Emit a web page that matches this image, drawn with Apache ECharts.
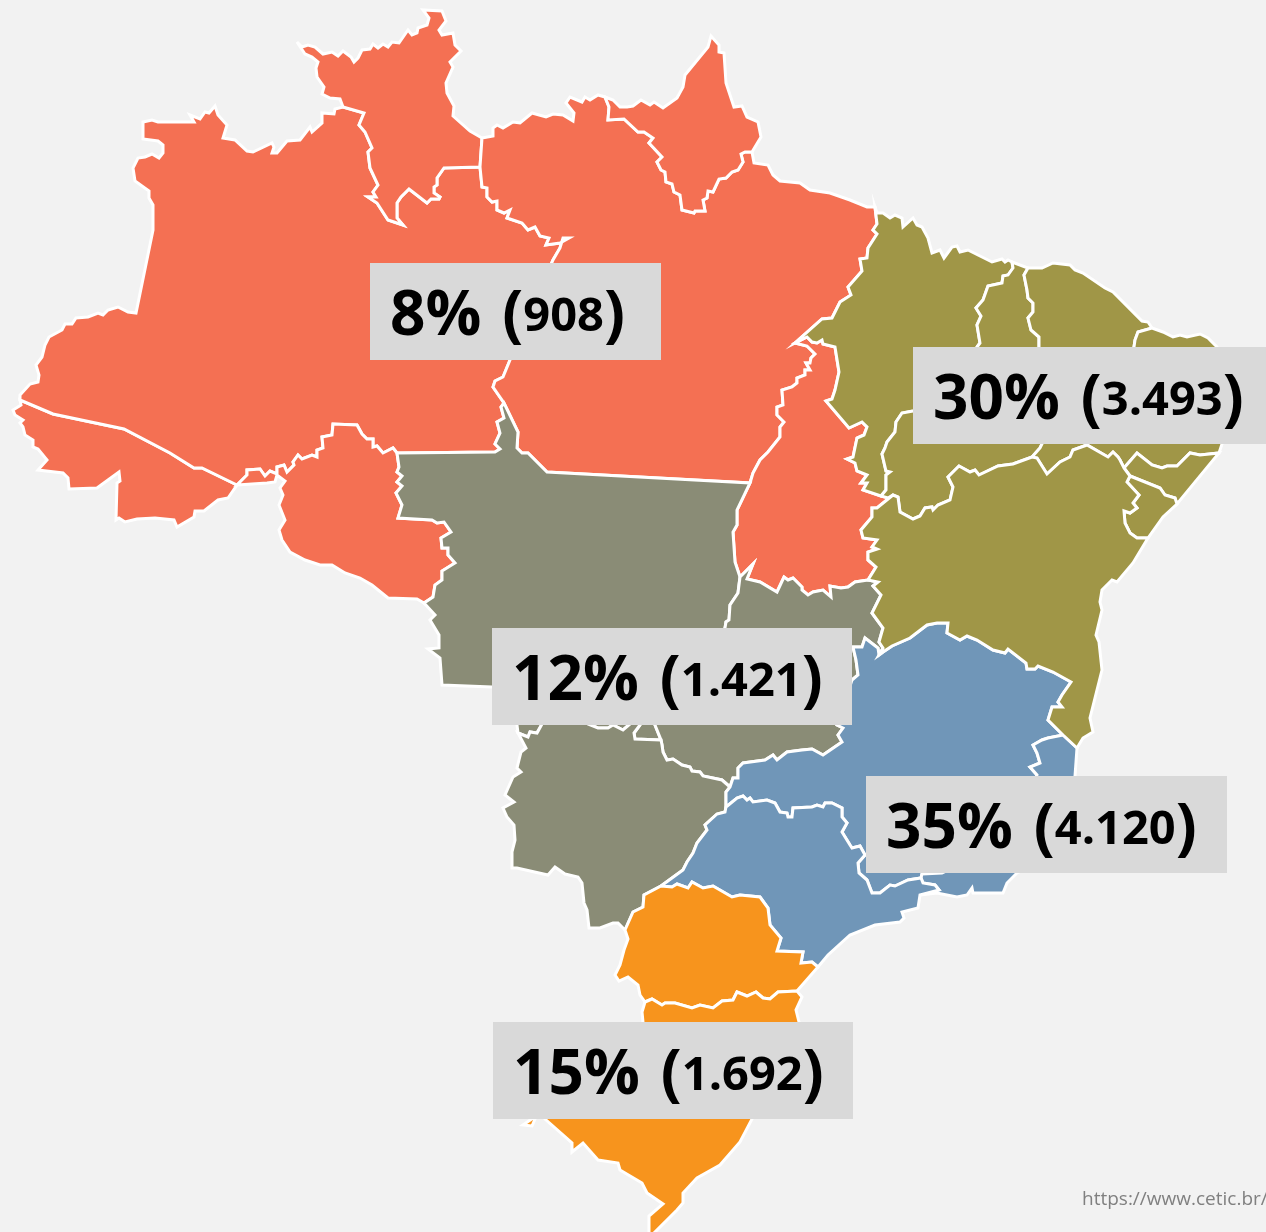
<!DOCTYPE html>
<html>
<head>
<meta charset="utf-8">
<style>html,body{margin:0;padding:0;background:#f2f2f2}#chart{width:1266px;height:1232px}</style>
<script src="https://cdn.jsdelivr.net/npm/echarts@6/dist/echarts.min.js"></script>
</head>
<body>
<div id="chart"></div>
<script>
// values
const regionNames = ['Norte', 'Nordeste', 'Centro-Oeste', 'Sudeste', 'Sul'];
const sharePercent = [8, 30, 12, 35, 15];
const schoolCounts = ['908', '3.493', '1.421', '4.120', '1.692'];
const regionColors = ['#f47053', '#a09647', '#8a8c76', '#7096b8', '#f7941d'];
const regionStates = [
  ['AC', 'AM', 'RO', 'RR', 'PA', 'AP', 'TO'],
  ['MA', 'PI', 'CE', 'RN', 'PB', 'PE', 'AL', 'SE', 'BA'],
  ['MT', 'MS', 'GO'],
  ['MG', 'ES', 'RJ', 'SP'],
  ['PR', 'SC', 'RS']
];
// where each label box sits on the map, and its width
const labelAnchors = [[515.5, 311.5], [1093, 395.5], [672, 676.5], [1046.5, 824.5], [673, 1070.5]];
const labelWidths = [291, 360, 360, 361, 360];

// state borders; shared borders are used by both states
const acAm = [[20,400],[53,414],[124,429],[170,453],[194,468],[202,468],[237,485]];
const acSouth = [[237,485],[228,498],[218,500],[204,511],[195,511],[194,517],[177,527],[174,520],[155,518],[137,519],[125,522],[119,518],[116,520],[117,483],[120,481],[119,472],[97,488],[69,489],[68,478],[63,473],[38,470],[47,460],[38,449],[33,447],[33,440],[25,435],[23,427],[20,423],[23,420],[15,415],[13,410],[21,405],[20,400]];
const amNorth = [[20,400],[20,395],[30,384],[38,382],[39,375],[36,365],[42,357],[45,345],[49,337],[62,330],[65,324],[72,324],[76,318],[88,317],[98,313],[103,315],[108,310],[118,307],[128,312],[136,313],[153,230],[153,205],[149,198],[149,191],[135,181],[133,168],[138,158],[145,157],[152,154],[159,158],[163,153],[163,145],[158,141],[143,139],[143,122],[152,120],[158,122],[194,122],[190,115],[200,119],[205,112],[209,113],[215,106],[218,115],[227,125],[223,138],[235,140],[247,151],[253,152],[272,143],[274,147],[272,153],[277,153],[287,141],[300,140],[310,127],[312,132],[322,123],[322,113],[334,114],[335,109],[343,107]];
const amRr = [[343,107],[364,113],[359,125],[365,132],[372,148],[368,152],[370,168],[378,185],[373,192],[376,197],[368,197],[377,203],[388,220],[403,225],[397,218],[397,203],[401,197],[409,189],[427,203],[431,199],[439,199],[440,197],[434,193],[434,187],[437,185],[437,178],[444,168],[480,167]];
const rrNorth = [[343,107],[340,99],[330,98],[322,94],[324,87],[317,77],[316,68],[318,62],[312,57],[305,54],[297,42],[302,47],[308,45],[315,47],[323,54],[332,52],[338,56],[343,51],[351,57],[354,62],[358,58],[362,50],[370,49],[373,44],[378,48],[383,44],[388,47],[392,42],[399,43],[408,30],[412,35],[417,33],[418,28],[427,25],[429,18],[423,10],[442,11],[446,21],[439,30],[442,35],[453,33],[455,45],[461,51],[450,62],[453,67],[446,83],[447,93],[454,106],[453,116],[470,131],[482,138]];
const rrPa = [[482,138],[480,167]];
const amPa = [[480,167],[482,187],[487,188],[487,197],[492,202],[497,201],[497,210],[504,213],[510,210],[507,218],[522,223],[528,230],[535,227],[540,236],[549,238],[546,245],[560,243],[569,238],[563,238],[560,248],[553,260],[510,360],[503,377],[495,381],[493,387],[504,403]];
const amMt = [[504,403],[501,407],[504,418],[497,422],[500,433],[495,444],[500,449],[495,452],[397,453]];
const amRo = [[397,453],[393,448],[383,453],[377,446],[373,447],[373,439],[367,439],[362,434],[357,425],[333,424],[332,435],[322,437],[323,448],[317,450],[317,457],[312,455],[302,459],[298,455],[293,462],[294,465],[287,472],[284,465],[277,467],[277,474],[270,471],[265,476],[260,469],[247,470],[247,475],[237,485]];
const roSouth = [[237,485],[267,483],[275,482],[277,475],[285,481],[280,488],[283,495],[279,505],[285,520],[279,530],[282,540],[290,552],[305,560],[320,565],[332,565],[345,573],[360,578],[372,585],[388,598],[417,599],[424,603]];
const roMt = [[397,453],[399,467],[397,472],[402,476],[397,482],[402,486],[396,493],[402,505],[398,518],[432,520],[437,523],[444,522],[451,532],[441,538],[442,548],[448,548],[448,555],[455,563],[442,571],[442,580],[435,585],[433,597],[424,603]];
const mtWest = [[424,603],[435,615],[430,620],[439,635],[439,648],[428,649],[440,658],[442,685],[492,687],[510,690],[517,725],[518,733]];
const mtMs = [[518,733],[528,737],[530,732],[537,733],[542,724],[550,712],[580,712],[588,724],[598,728],[608,728],[613,725],[623,730],[630,724],[635,715],[645,715],[640,725],[634,733],[635,739],[661,740]];
const mtGo = [[661,740],[655,725],[690,680],[725,628],[726,622],[729,620],[730,605],[738,593],[740,577]];
const mtTo = [[740,577],[735,562],[733,532],[737,525],[737,510],[750,483]];
const mtPa = [[750,483],[547,472],[528,453],[522,453],[517,448],[518,432],[504,403]];
const paNorth = [[482,138],[493,136],[493,128],[497,125],[503,128],[513,122],[520,123],[532,113],[546,117],[553,114],[563,115],[573,121],[574,113],[566,103],[570,97],[582,102],[585,97],[590,100],[598,95],[605,97]];
const apPa = [[605,97],[609,107],[608,120],[624,119],[638,132],[644,132],[653,138],[649,143],[662,157],[657,162],[661,170],[665,172],[666,182],[672,184],[674,192],[680,195],[682,210],[694,213],[695,211],[705,211],[703,200],[707,198],[708,191],[713,192],[719,179],[726,178],[732,172],[738,170],[743,162],[741,154],[745,152],[752,152]];
const apOuter = [[605,97],[613,100],[620,107],[627,107],[633,106],[641,100],[650,105],[654,102],[663,108],[677,98],[683,87],[685,75],[708,47],[711,36],[719,45],[719,52],[724,53],[726,83],[734,107],[742,106],[747,117],[758,122],[761,137],[752,152]];
const paEast = [[752,152],[754,163],[768,165],[773,175],[780,181],[800,183],[810,190],[830,193],[850,200],[867,207],[875,207]];
const paMa = [[875,207],[877,224],[873,230],[877,234],[868,248],[867,258],[860,259],[862,271],[848,287],[851,295],[840,302],[832,318],[822,319],[795,343]];
const paTo = [[795,343],[807,346],[815,354],[811,358],[810,363],[806,363],[810,370],[805,370],[805,375],[797,378],[797,383],[792,387],[782,390],[783,405],[777,407],[777,415],[784,422],[780,427],[780,437],[768,452],[760,460],[753,473],[750,483]];
const toMa = [[795,343],[807,337],[812,342],[817,343],[822,340],[823,344],[835,347],[839,372],[835,390],[832,399],[826,401],[849,428],[862,422],[867,427],[864,435],[857,438],[853,457],[847,459],[855,463],[857,471],[867,475],[861,483],[867,483],[863,490],[881,496]];
const toPi = [[881,496],[888,498],[893,495]];
const toBa = [[893,495],[877,508],[872,508],[872,517],[861,530],[863,538],[877,540],[872,547],[877,549],[868,552],[868,560],[876,567],[868,580]];
const toGo = [[868,580],[855,582],[848,587],[841,588],[830,586],[831,597],[823,590],[813,592],[808,595],[802,590],[802,587],[793,578],[788,580],[784,577],[777,592],[760,582],[747,579],[753,564],[740,577]];
const goBa = [[868,580],[878,582],[873,586],[881,595],[872,613],[883,628],[879,642],[883,648],[879,655]];
const goMg = [[879,655],[878,648],[865,638],[862,647],[853,647],[856,660],[858,675],[852,680],[837,725],[843,728],[838,735],[842,742],[823,755],[812,749],[802,750],[787,752],[777,760],[773,755],[765,760],[743,763],[738,768],[738,778],[733,778],[730,787]];
const goMs = [[730,787],[722,780],[703,776],[700,772],[692,771],[690,767],[682,765],[673,759],[667,760],[663,752],[662,745],[661,740]];
const msOuter = [[518,733],[526,748],[521,752],[517,768],[521,772],[513,777],[505,795],[514,802],[503,808],[507,817],[514,825],[515,840],[512,852],[512,868],[517,868],[548,875],[555,867],[565,874],[578,877],[582,883],[584,903],[587,910],[589,928],[600,928],[613,923],[618,923],[625,930]];
const msPr = [[625,930],[633,912],[643,907],[644,895],[661,886]];
const msSp = [[661,886],[683,870],[687,862],[693,853],[697,843],[707,830],[705,825],[717,814],[725,812],[726,807]];
const msMg = [[726,807],[726,792],[730,787]];
const spMg = [[726,807],[737,798],[743,796],[747,800],[750,798],[753,802],[767,800],[775,803],[780,812],[787,813],[788,817],[792,817],[793,808],[812,807],[817,805],[823,807],[825,803],[832,803],[842,808],[842,817],[847,823],[842,832],[850,845],[852,848],[860,846],[865,855],[858,863],[859,873],[867,880],[872,893],[880,893],[890,885],[895,886],[908,880],[921,878]];
const spRj = [[921,878],[923,883],[935,885],[939,890],[920,895]];
const spCoast = [[920,895],[918,908],[902,912],[904,918],[900,922],[875,925],[850,935],[828,955],[818,967]];
const prTop = [[661,886],[672,887],[677,884],[688,888],[692,882],[703,888],[713,886],[732,897],[740,895],[760,897],[768,908],[770,925],[781,938],[777,951],[803,952],[801,963],[812,962],[818,967]];
const prCoast = [[818,967],[797,991]];
const prSc = [[797,991],[778,992],[770,999],[763,998],[756,992],[747,996],[737,992],[733,1000],[722,1001],[713,1008],[700,1005],[692,1008],[675,1003],[665,1003],[662,1005],[652,999],[645,1002]];
const prWest = [[625,930],[628,939],[624,950],[620,965],[615,975],[619,981],[628,977],[638,985],[640,995],[645,1002]];
const scEast = [[797,991],[802,997],[796,1010],[799,1022],[795,1060]];
const scRs = [[795,1060],[643,1060]];
const scWest = [[643,1060],[643,1022],[642,1012],[645,1002]];
const rsOuter = [[795,1060],[775,1085],[752,1119],[740,1142],[720,1165],[697,1178],[683,1193],[683,1203],[677,1210],[651,1236],[649,1236],[649,1216],[663,1204],[647,1193],[642,1183],[620,1170],[618,1163],[598,1160],[583,1143],[572,1152],[572,1143],[545,1119],[540,1112],[535,1119],[532,1126],[523,1125],[533,1118],[525,1105],[580,1075],[643,1060]];
const baMg = [[879,655],[883,652],[892,646],[910,638],[927,625],[937,623],[948,623],[947,633],[960,640],[967,636],[977,640],[993,650],[1005,653],[1008,649],[1026,663],[1027,669],[1035,669],[1038,666],[1053,672],[1071,682],[1062,695],[1058,702],[1062,707],[1052,707],[1048,720],[1063,735]];
const baEs = [[1063,735],[1077,748]];
const mgEs = [[1063,735],[1048,738],[1042,740],[1033,745],[1037,753],[1040,763],[1030,767],[1037,775],[1030,800],[1030,820]];
const esCoast = [[1045,860],[1060,810],[1075,776],[1077,748]];
const esRj = [[1030,820],[1045,860]];
const mgRj = [[1030,820],[1000,845],[942,873],[922,874],[921,878]];
const rjCoast = [[1045,860],[1017,873],[1007,883],[1003,893],[973,893],[972,888],[967,895],[957,897],[937,893],[920,895]];
const maCoast = [[875,207],[877,213],[883,213],[890,218],[895,215],[902,218],[903,227],[913,218],[917,225],[922,227],[928,238],[932,253],[940,250],[944,258],[952,247],[957,246],[960,252],[968,250],[992,262],[1002,259],[1005,262],[1008,260],[1012,262]];
const maPi = [[1012,262],[1013,268],[1008,275],[1003,276],[1002,283],[988,286],[983,300],[976,308],[981,316],[977,325],[980,343],[977,347],[960,400],[913,411],[902,413],[896,422],[895,432],[887,442],[885,448],[882,454],[886,471],[890,472],[886,475],[886,490],[881,496]];
const piCoast = [[1012,262],[1028,268]];
const piCe = [[1028,268],[1024,275],[1027,290],[1028,298],[1033,303],[1033,312],[1028,318],[1031,330],[1039,337],[1039,347],[1042,400],[1042,430]];
const piPe = [[1042,430],[1042,444],[1040,448],[1032,457]];
const piBa = [[893,495],[898,497],[900,512],[913,519],[920,516],[925,508],[932,507],[933,510],[938,505],[950,500],[953,487],[948,477],[959,466],[970,472],[975,470],[979,475],[998,466],[1013,464],[1032,457]];
const ceCoast = [[1028,268],[1042,268],[1053,263],[1070,265],[1075,270],[1083,273],[1105,288],[1113,292],[1142,321],[1148,322],[1152,328]];
const ceRn = [[1152,328],[1138,332],[1135,340],[1134,347],[1128,370],[1125,385]];
const cePb = [[1125,385],[1100,400],[1060,415]];
const cePe = [[1060,415],[1042,430]];
const rnCoast = [[1152,328],[1163,332],[1173,337],[1180,335],[1187,337],[1200,334],[1208,338],[1217,347],[1223,370],[1225,385]];
const rnPb = [[1125,385],[1225,385]];
const pbCoast = [[1225,385],[1225,415]];
const pePb = [[1225,415],[1125,410],[1060,415]];
const peCoast = [[1225,415],[1222,444],[1219,453]];
const peAl = [[1124,468],[1137,453],[1152,465],[1162,468],[1167,466],[1177,466],[1190,453],[1200,455],[1219,453]];
const peBa = [[1032,457],[1037,458],[1047,474],[1060,462],[1070,457],[1073,450],[1087,445],[1108,457],[1113,452],[1118,457],[1120,460],[1124,468]];
const alBa = [[1124,468],[1127,472],[1130,476]];
const alCoast = [[1219,453],[1177,504]];
const alSe = [[1177,504],[1175,498],[1165,495],[1160,488],[1130,476]];
const seBa = [[1130,476],[1127,482],[1139,495],[1133,503],[1137,508],[1130,513],[1124,511],[1125,523],[1130,533],[1137,538],[1148,538]];
const seCoast = [[1177,504],[1163,517],[1148,538]];
const baCoast = [[1148,538],[1133,563],[1117,582],[1112,580],[1102,590],[1100,602],[1102,610],[1096,635],[1099,642],[1102,670],[1090,718],[1093,732],[1083,738],[1077,748]];

const rev = s => s.slice().reverse();
const ring = (...parts) => parts.flat();

const stateRings = {
  AC: ring(acAm, acSouth),
  AM: ring(amNorth, amRr, amPa, amMt, amRo, rev(acAm)),
  RO: ring(rev(amRo), roMt, rev(roSouth)),
  RR: ring(rrNorth, rrPa, rev(amRr)),
  PA: ring(paNorth, apPa, paEast, paMa, paTo, mtPa, rev(amPa), rev(rrPa)),
  AP: ring(apOuter, rev(apPa)),
  TO: ring(rev(paTo), toMa, toPi, toBa, toGo, mtTo),
  MT: ring(amMt, roMt, mtWest, mtMs, mtGo, mtTo, mtPa),
  GO: ring(rev(toGo), goBa, goMg, goMs, mtGo),
  MS: ring(rev(mtMs), msOuter, msPr, msSp, msMg, goMs),
  MG: ring(rev(goMg), baMg, mgEs, mgRj, rev(spMg), msMg),
  ES: ring(rev(baEs), mgEs, esRj, esCoast),
  RJ: ring(rev(mgRj), esRj, rjCoast, rev(spRj)),
  SP: ring(msSp, spMg, spRj, spCoast, rev(prTop)),
  PR: ring(prTop, prCoast, prSc, rev(prWest), msPr),
  SC: ring(rev(prSc), scEast, scRs, scWest),
  RS: ring(rsOuter, rev(scRs)),
  MA: ring(maCoast, maPi, rev(toMa), rev(paMa)),
  PI: ring(piCoast, piCe, piPe, rev(piBa), rev(toPi), rev(maPi)),
  CE: ring(ceCoast, ceRn, cePb, cePe, rev(piCe)),
  RN: ring(rnCoast, rev(rnPb), rev(ceRn)),
  PB: ring(rnPb, pbCoast, pePb, rev(cePb)),
  PE: ring(rev(cePe), rev(pePb), peCoast, rev(peAl), rev(peBa), rev(piPe)),
  AL: ring(peAl, alCoast, alSe, rev(alBa)),
  SE: ring(rev(alSe), seCoast, rev(seBa)),
  BA: ring(rev(toBa), piBa, peBa, alBa, seBa, baCoast, rev(baEs), rev(baMg), rev(goBa))
};

const brazil = {
  type: 'FeatureCollection',
  features: Object.keys(stateRings).map(name => ({
    type: 'Feature',
    properties: { name: name },
    geometry: { type: 'Polygon', coordinates: [stateRings[name]] }
  }))
};
echarts.registerMap('brasil', brazil);

const regions = [];
regionStates.forEach((states, i) => {
  states.forEach(name => {
    regions.push({ name: name, itemStyle: { areaColor: regionColors[i] } });
  });
});

const chart = echarts.init(document.getElementById('chart'));
chart.setOption({
  animation: false,
  backgroundColor: '#f2f2f2',
  title: {
    text: 'https://www.cetic.br/',
    left: 1082,
    top: 1190,
    padding: 0,
    textStyle: { fontFamily: 'Open Sans', fontSize: 19, fontWeight: 'normal', color: '#808080' }
  },
  geo: {
    map: 'brasil',
    projection: { project: p => p, unproject: p => p },
    boundingCoords: [[0, 0], [1266, 1232]],
    left: 0,
    top: 0,
    width: 1266,
    height: 1232,
    roam: false,
    silent: true,
    regions: regions,
    label: { show: false },
    itemStyle: { borderColor: '#ffffff', borderWidth: 3 }
  },
  series: [
    {
      type: 'scatter',
      coordinateSystem: 'geo',
      silent: true,
      symbol: 'rect',
      symbolSize: (v, p) => [labelWidths[p.dataIndex], 97],
      itemStyle: { color: '#d9d9d9', opacity: 1 },
      data: regionNames.map((name, i) => ({
        name: name,
        value: labelAnchors[i].concat(sharePercent[i])
      })),
      label: {
        show: true,
        position: 'insideLeft',
        distance: 20,
        offset: [0, 6],
        color: '#000',
        fontFamily: 'Open Sans',
        formatter: p => `{big|${sharePercent[p.dataIndex]}%}{open|(}{small|${schoolCounts[p.dataIndex]}}{big|)}`,
        rich: {
          big: { fontFamily: 'Open Sans', fontSize: 62, fontWeight: 700, color: '#000', lineHeight: 80 },
          open: { fontFamily: 'Open Sans', fontSize: 62, fontWeight: 700, color: '#000', lineHeight: 80, padding: [0, 0, 0, 21] },
          small: { fontFamily: 'Open Sans', fontSize: 47, fontWeight: 700, color: '#000', lineHeight: 80 }
        }
      }
    }
  ]
});
</script>
</body>
</html>
